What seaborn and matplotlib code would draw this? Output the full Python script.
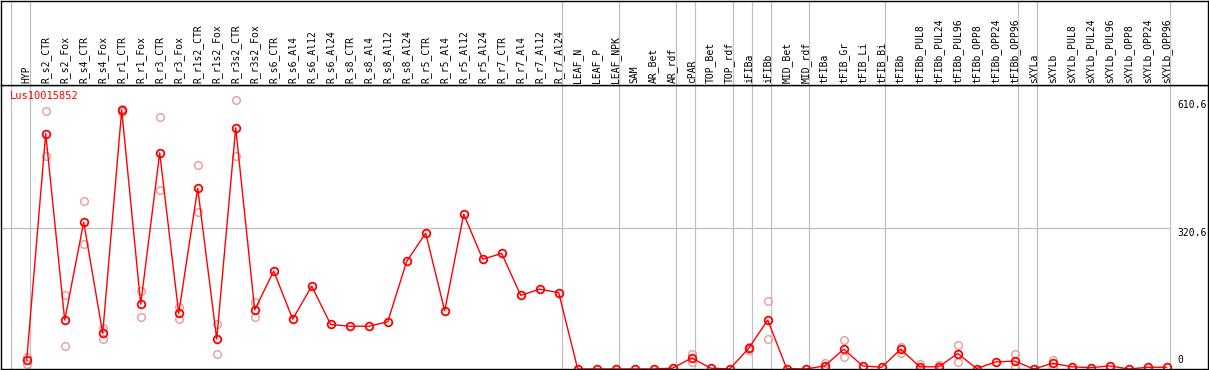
import numpy as np
import pandas as pd
import matplotlib
matplotlib.use('Agg')
import matplotlib.pyplot as plt
import seaborn as sns

sns.set_style('white')
plt.rcParams['font.family'] = ['DejaVu Sans Mono', 'DejaVu Sans']

gene = 'Lus10015852'
samples = ['HYP', 'R_s2_CTR', 'R_s2_Fox', 'R_s4_CTR', 'R_s4_Fox', 'R_r1_CTR', 'R_r1_Fox',
           'R_r3_CTR', 'R_r3_Fox', 'R_r1s2_CTR', 'R_r1s2_Fox', 'R_r3s2_CTR', 'R_r3s2_Fox',
           'R_s6_CTR', 'R_s6_Al4', 'R_s6_Al12', 'R_s6_Al24', 'R_s8_CTR', 'R_s8_Al4',
           'R_s8_Al12', 'R_s8_Al24', 'R_r5_CTR', 'R_r5_Al4', 'R_r5_Al12', 'R_r5_Al24',
           'R_r7_CTR', 'R_r7_Al4', 'R_r7_Al12', 'R_r7_Al24', 'LEAF_N', 'LEAF_P', 'LEAF_NPK',
           'SAM', 'AR_Bet', 'AR_rdf', 'cPAR', 'TOP_Bet', 'TOP_rdf', 'iFIBa', 'iFIBb',
           'MID_Bet', 'MID_rdf', 'tFIBa', 'tFIB_Gr', 'tFIB_Li', 'tFIB_Bi', 'tFIBb',
           'tFIBb_PUL8', 'tFIBb_PUL24', 'tFIBb_PUL96', 'tFIBb_OPP8', 'tFIBb_OPP24', 'tFIBb_OPP96',
           'sXYLa', 'sXYLb', 'sXYLb_PUL8', 'sXYLb_PUL24', 'sXYLb_PUL96', 'sXYLb_OPP8',
           'sXYLb_OPP24', 'sXYLb_OPP96']

# mean expression per sample
mean_expr = [20, 534, 111, 333, 81, 587, 147, 490, 126, 410, 68, 547, 134,
             222, 113, 188, 101, 97, 97, 107, 244, 308, 132, 351, 249, 262, 167, 181, 173,
             0, 0, 0, 0, 0, 2, 25, 2, 0, 47, 111, 1, 0, 7, 45, 7, 4, 45,
             5, 5, 35, 1, 16, 18, 0, 13, 5, 3, 7, 0, 4, 4]
nan = np.nan
# replicates (where visible)
rep_a = [27, 584, 168, 381, 94, 589, 177, 571, 141, 462, 102, 610.6, 152,
         nan, nan, nan, nan, nan, nan, nan, nan, nan, nan, nan, nan, nan, nan, nan, nan,
         nan, nan, nan, nan, nan, nan, 34, nan, nan, 50, 154, nan, nan, 13, 66, nan, nan, 51,
         11, 10, 54, nan, nan, 33, nan, 20, nan, nan, nan, nan, nan, nan]
rep_b = [12, 484, 53, 283, 67, 583, 117, 406, 113, 357, 33, 483, 117,
         nan, nan, nan, nan, nan, nan, nan, nan, nan, nan, nan, nan, nan, nan, nan, nan,
         nan, nan, nan, nan, nan, nan, 16, nan, nan, 44, 67, nan, nan, 1, 27, nan, nan, 37,
         0, 0, 17, nan, nan, 5, nan, 5, nan, nan, nan, nan, nan, nan]
# index of first sample of each group
group_starts = [0, 1, 29, 32, 35, 36, 38, 39, 40, 42, 46, 53, 54, 61]
ymarks = [610.6, 320.6, 0]

xpos = np.arange(len(samples))
df = pd.DataFrame({'x': xpos, 'mean': mean_expr, 'a': rep_a, 'b': rep_b})
reps = pd.concat([df[['x', 'a']].rename(columns={'a': 'v'}),
                  df[['x', 'b']].rename(columns={'b': 'v'})]).dropna()

W, H = 1209, 370
fig = plt.figure(figsize=(W / 100, H / 100), dpi=100)
ax = fig.add_axes([1 / W, 1 / H, 1207 / W, 284 / H])
hax = fig.add_axes([1 / W, 285 / H, 1207 / W, 84 / H])

xlim = ((1 - 26.7) / 19, (1208 - 26.7) / 19)
for a in (ax, hax):
    a.set_xlim(xlim)
    a.set_xticks([])
    a.set_yticks([])
    for s in a.spines.values():
        s.set_color('black')
        s.set_linewidth(1.0)
    for g in group_starts:
        a.axvline(g - 0.842, color='#c0c0c0', lw=0.9, zorder=0)
ax.set_ylim(0, 284 / 0.441)
hax.set_ylim(0, 1)

ax.hlines(320.6, xlim[0], 61 - 0.842, color='#c0c0c0', lw=0.9, zorder=0)

sns.lineplot(data=reps, x='x', y='v', ax=ax, estimator=None, linestyle='', marker='o',
             markersize=5.5, markerfacecolor='none', markeredgecolor='#e89a9a',
             markeredgewidth=1.0, clip_on=False)
sns.lineplot(data=df, x='x', y='mean', ax=ax, color='red', lw=1.0, marker='o',
             markersize=5.5, markerfacecolor='none', markeredgecolor='red',
             markeredgewidth=1.3, clip_on=False)
ax.set_xlabel('')
ax.set_ylabel('')

for i, name in enumerate(samples):
    hax.text(i, 2 / 84, name, rotation=90, ha='center', va='bottom', fontsize=7,
             color='black')

ax.text(9 / 1207, 1 - 6 / 284, gene, transform=ax.transAxes, color='red',
        fontsize=7.5, ha='left', va='top')

lab_x = (1177 - 26.7) / 19
for v in ymarks:
    ax.text(lab_x, v + (0 if v > 0 else 8), f'{v:g}' if v == 0 else f'{v}', fontsize=7,
            ha='left', va='top' if v > 0 else 'bottom', color='black')

fig.savefig('out.png', dpi=100)
